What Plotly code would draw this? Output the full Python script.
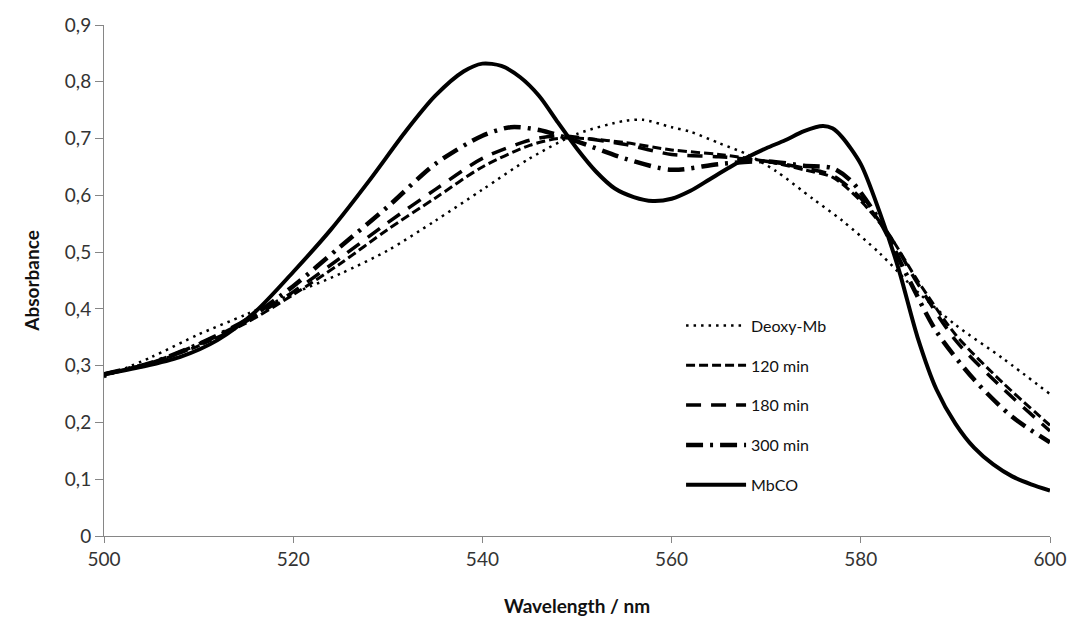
import plotly.graph_objects as go

# Wavelengths (nm) and absorbance values for each spectrum
wl_deoxy = [500, 505, 510, 515, 520, 525, 530, 535, 540, 545, 550, 555, 557, 560, 562, 565, 568, 571, 575, 578, 582, 586, 590, 595, 600]
abs_deoxy = [0.28, 0.315, 0.355, 0.39, 0.427, 0.462, 0.503, 0.555, 0.61, 0.665, 0.708, 0.731, 0.733, 0.72, 0.712, 0.692, 0.672, 0.643, 0.593, 0.556, 0.498, 0.43, 0.372, 0.313, 0.25]

wl_120 = [500, 505, 510, 515, 520, 525, 530, 535, 540, 545, 548, 551, 555, 560, 565, 570, 574, 577, 580, 583, 586, 590, 595, 600]
abs_120 = [0.285, 0.305, 0.335, 0.375, 0.425, 0.48, 0.54, 0.595, 0.65, 0.688, 0.7, 0.7, 0.693, 0.68, 0.672, 0.66, 0.645, 0.632, 0.59, 0.53, 0.45, 0.355, 0.27, 0.195]

wl_180 = [500, 505, 510, 515, 520, 525, 530, 535, 540, 545, 548, 551, 555, 560, 565, 570, 574, 577, 580, 583, 586, 590, 595, 600]
abs_180 = [0.285, 0.305, 0.338, 0.378, 0.43, 0.49, 0.552, 0.61, 0.665, 0.697, 0.705, 0.7, 0.69, 0.672, 0.668, 0.66, 0.648, 0.635, 0.595, 0.53, 0.445, 0.345, 0.26, 0.185]

wl_300 = [500, 505, 510, 515, 520, 525, 530, 535, 540, 543, 546, 550, 555, 560, 565, 570, 574, 577, 579, 582, 585, 588, 592, 596, 600]
abs_300 = [0.285, 0.305, 0.338, 0.38, 0.44, 0.51, 0.58, 0.655, 0.705, 0.72, 0.715, 0.695, 0.665, 0.645, 0.655, 0.66, 0.652, 0.648, 0.625, 0.555, 0.455, 0.36, 0.275, 0.21, 0.165]

wl_mbco = [500, 504, 508, 512, 516, 520, 524, 528, 532, 535, 538, 540, 542, 544, 546, 548, 550, 552, 554, 556, 558, 560, 562, 564, 566, 568, 570, 572, 574, 576, 577, 578, 580, 582, 584, 586, 588, 590, 592, 594, 596, 598, 600]
abs_mbco = [0.285, 0.298, 0.315, 0.345, 0.395, 0.465, 0.54, 0.625, 0.715, 0.775, 0.818, 0.832, 0.828, 0.808, 0.775, 0.728, 0.682, 0.642, 0.612, 0.597, 0.59, 0.594, 0.608, 0.628, 0.648, 0.667, 0.683, 0.697, 0.713, 0.722, 0.718, 0.703, 0.655, 0.57, 0.47, 0.35, 0.258, 0.198, 0.155, 0.126, 0.105, 0.091, 0.08]

x_ticks = [500, 520, 540, 560, 580, 600]
y_ticks = [0, 0.1, 0.2, 0.3, 0.4, 0.5, 0.6, 0.7, 0.8, 0.9]
y_tick_text = ["0", "0,1", "0,2", "0,3", "0,4", "0,5", "0,6", "0,7", "0,8", "0,9"]

series = [
    ("Deoxy-Mb", wl_deoxy, abs_deoxy, 2.5, "2.5px,5px"),
    ("120 min", wl_120, abs_120, 3, "9px,4px"),
    ("180 min", wl_180, abs_180, 3.5, "15px,10px"),
    ("300 min", wl_300, abs_300, 4.5, "17px,7px,3px,7px"),
    ("MbCO", wl_mbco, abs_mbco, 4, "solid"),
]

fig = go.Figure()
for i, (name, x, y, w, dash) in enumerate(series):
    fig.add_trace(go.Scatter(
        x=x, y=y, mode="lines", name=name, legendgroup=f"g{i}",
        line=dict(color="black", width=w, dash=dash, shape="spline", smoothing=0.8),
    ))

font_family = "Lato, 'Open Sans', sans-serif"
fig.update_layout(
    width=1074, height=626,
    margin=dict(l=104, r=24, t=25, b=90, autoexpand=False),
    plot_bgcolor="white", paper_bgcolor="white",
    font=dict(family=font_family, size=16, color="#222222"),
    showlegend=True,
    legend=dict(
        x=0.61, y=0.445, xanchor="left", yanchor="top",
        bgcolor="rgba(0,0,0,0)", font=dict(size=16, family=font_family, color="#111111"),
        tracegroupgap=16, itemwidth=60,
    ),
    xaxis=dict(
        range=[500, 600], tickvals=x_ticks, ticktext=[str(v) for v in x_ticks],
        showgrid=False, zeroline=False, showline=True, linecolor="#868686", linewidth=1,
        ticks="outside", ticklen=6, tickcolor="#868686", automargin=False,
        title=dict(text="<b>Wavelength / nm</b>", font=dict(size=19, color="#111111"), standoff=30),
        tickfont=dict(size=19, color="#333333"),
    ),
    yaxis=dict(
        range=[0, 0.9], tickvals=y_ticks, ticktext=y_tick_text,
        showgrid=False, zeroline=False, showline=True, linecolor="#868686", linewidth=1,
        ticks="outside", ticklen=8, tickcolor="#868686", automargin=False,
        title=dict(text="<b>Absorbance</b>", font=dict(size=19, color="#111111"), standoff=20),
        tickfont=dict(size=19, color="#333333"),
    ),
)

fig.write_html("out.html")
